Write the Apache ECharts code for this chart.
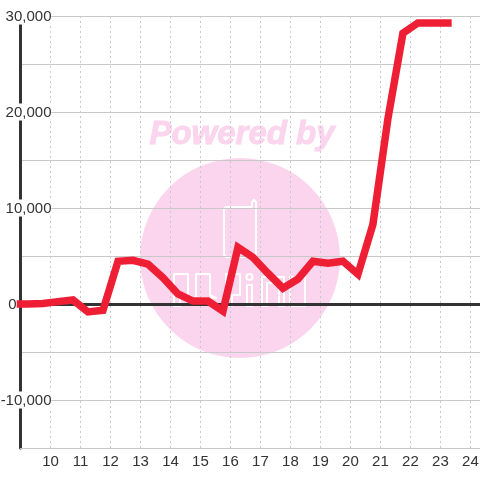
<!DOCTYPE html>
<html>
<head>
<meta charset="utf-8">
<style>
  html, body { margin: 0; padding: 0; background: #fff; }
  #chart { width: 480px; height: 480px; }
</style>
<script src="https://cdn.jsdelivr.net/npm/echarts@6/dist/echarts.min.js"></script>
</head>
<body>
<div id="chart"></div>
<script>
var hours = [9, 9.25, 9.75, 10.25, 10.75, 11.25, 11.75, 12.25, 12.75, 13.25, 13.75, 14.25, 14.75, 15.25, 15.75, 16.25, 16.75, 17.25, 17.75, 18.25, 18.75, 19.25, 19.75, 20.25, 20.75, 21.25, 21.75, 22.25, 22.75, 23.25];
var values = [0, 0, 50, 250, 420, -830, -650, 4450, 4550, 4150, 2750, 1050, 300, 300, -750, 5900, 4850, 3200, 1650, 2600, 4450, 4250, 4450, 3100, 8300, 19300, 28200, 29270, 29270, 29270];

// watermark logo outlines
var logoShapes = [
  [[224, 209], [226, 207], [252, 207], [252, 202], [254, 200], [256, 202], [256, 255], [254, 257], [226, 257], [224, 255]],
  [[174, 306], [174, 274], [188, 274], [188, 295], [180, 295], [180, 306]],
  [[196, 274], [210, 274], [210, 295], [216, 298], [196, 298]],
  [[226, 306], [226, 274], [240, 274], [240, 295], [232, 295], [232, 306]],
  [[247, 285], [252, 285], [252, 306], [247, 306]],
  [[262, 306], [262, 277], [284, 277], [284, 306], [279, 306], [279, 283], [267, 283], [267, 306]],
  [[290, 277], [305, 277], [305, 306], [290, 306]]
];

var chart = echarts.init(document.getElementById("chart"));

var watermark = [
  { type: "circle", z: -10, silent: true, shape: { cx: 240, cy: 258, r: 100 }, style: { fill: "#fbd5ed" } },
  { type: "text", z: -10, silent: true, x: 242, y: 135, style: { text: "Powered by", fill: "#fbd5ed", stroke: "#fbd5ed", lineWidth: 1, font: "italic bold 33px 'Liberation Sans'", textAlign: "center", textVerticalAlign: "middle" } },
  { type: "circle", z: -9, silent: true, shape: { cx: 249.5, cy: 277, r: 3 }, style: { fill: "none", stroke: "#fff", lineWidth: 2 } }
];
logoShapes.forEach(function (pts) {
  watermark.push({ type: "polygon", z: -9, silent: true, shape: { points: pts }, style: { fill: "none", stroke: "#fff", lineWidth: 2, lineJoin: "round" } });
});

var option = {
  animation: false,
  grid: { left: 20.5, right: 0, top: 16, bottom: 32, outerBoundsMode: "none" },
  // watermark sits under the grid lines
  graphic: watermark,
  xAxis: [
    {
      type: "value",
      min: 9,
      max: 24.32,
      interval: 1,
      axisLine: { onZero: false, lineStyle: { color: "#c8c8c8", width: 1 } },
      axisTick: { show: false },
      axisLabel: { showMinLabel: false, showMaxLabel: false, color: "#333", fontSize: 15, fontFamily: "Liberation Sans", margin: 6 },
      splitLine: { show: true, lineStyle: { color: "#c8c8c8", type: [2, 3], width: 1 } }
    },
    {
      // heavy zero line
      type: "value",
      position: "bottom",
      min: 9,
      max: 24.32,
      interval: 1,
      axisLine: { onZero: true, lineStyle: { color: "#333", width: 3 } },
      axisTick: { show: false },
      axisLabel: { show: false },
      splitLine: { show: false }
    }
  ],
  yAxis: {
    type: "value",
    min: -15000,
    max: 30000,
    interval: 5000,
    axisLine: { show: true, lineStyle: { color: "#333", width: 3 } },
    axisTick: { show: false },
    axisLabel: {
      inside: true,
      margin: 31,
      align: "right",
      formatter: function (v) {
        if (v === 0) return "{a|0}{gap|}";
        return v % 10000 === 0 ? "{a|" + v.toLocaleString("en-US") + "}" : "";
      },
      rich: {
        a: { color: "#333", fontSize: 15, fontFamily: "Liberation Sans", backgroundColor: "#fff", lineHeight: 13, padding: [2, 0, 0, 0] },
        gap: { width: 35 }
      }
    },
    splitLine: { show: true, lineStyle: { color: "#c8c8c8", width: 1 } }
  },
  series: [
    {
      type: "line",
      data: hours.map(function (h, i) { return [h, values[i]]; }),
      symbol: "none",
      clip: false,
      lineStyle: { color: "#ee1f35", width: 7.5, join: "miter", cap: "square" }
    }
  ]
};

chart.setOption(option);
</script>
</body>
</html>
